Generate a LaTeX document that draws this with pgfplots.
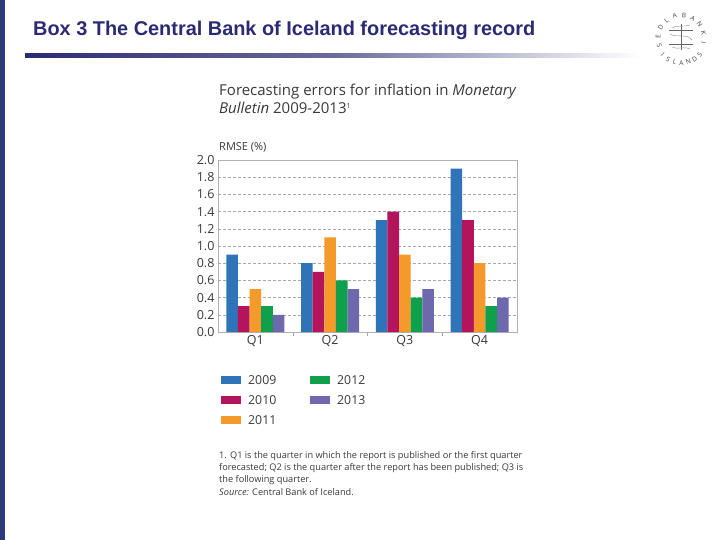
\documentclass[border=0pt]{standalone}
\usepackage{pgfplots}
\pgfplotsset{compat=1.18}
\usepackage{fontspec}
\setmainfont{Open Sans}
\newfontfamily\arialbf{Liberation Sans}
\definecolor{c2009}{HTML}{2F74B8}
\definecolor{c2010}{HTML}{B3145C}
\definecolor{c2011}{HTML}{F39A2B}
\definecolor{c2012}{HTML}{10A04C}
\definecolor{c2013}{HTML}{6E68AF}
\definecolor{navy}{HTML}{2B2B74}
\definecolor{strip}{HTML}{2E3A7C}
\definecolor{txt}{HTML}{3A3A3A}
\begin{document}
\begin{tikzpicture}[x=1pt,y=-1pt]
% page
\path[fill=white] (0,0) rectangle (720,540);
\fill[strip] (0,0) rectangle (5,540);
% slide title
\node[anchor=base west,inner sep=0pt,text=navy,font=\arialbf\bfseries\fontsize{19.9}{21}\selectfont] at (33,36) {Box 3 The Central Bank of Iceland forecasting record};
\shade[left color=navy,right color=white,middle color=navy!70] (25,54) rectangle (640,58);
% logo approximation
\foreach \l [count=\i] in {S,E,D,L,A,B,A,N,K,I} {
  \pgfmathsetmacro\a{200-(\i-1)*23.5}
  \node[inner sep=0pt,font=\fontsize{6.5}{7}\selectfont,text=black!75,rotate=\a-90]
    at ({681+23*cos(\a)},{38-23*sin(\a)}) {\l};
}
\foreach \l [count=\i] in {I,S,L,A,N,D,S} {
  \pgfmathsetmacro\a{223+(\i-1)*16}
  \node[inner sep=0pt,font=\fontsize{6.5}{7}\selectfont,text=black!75,rotate=\a+90]
    at ({681+25*cos(\a)},{38-25*sin(\a)}) {\l};
}
\draw[black!60,line width=0.5pt] (669,30) -- (693,30) (681,24) -- (681,50) (669,44) -- (693,44);
\draw[black!45,line width=0.4pt] (670,34) .. controls (675,38) and (687,33) .. (692,40)
  (672,47) .. controls (676,50) and (686,46) .. (690,49)
  (672,28) .. controls (676,25) and (686,27) .. (690,25);
% chart title
\node[anchor=base west,inner sep=0pt,text=txt,font=\fontsize{15}{18}\selectfont] at (219,96) {Forecasting errors for inflation in \textit{Monetary}};
\node[anchor=base west,inner sep=0pt,text=txt,font=\fontsize{15}{18}\selectfont] at (219,114) {\textit{Bulletin} 2009-2013\textsuperscript{\fontsize{7}{7}\selectfont 1}};
\node[anchor=base west,inner sep=0pt,text=txt,font=\fontsize{11}{12}\selectfont] at (219,151) {RMSE (\%)};
\coordinate (A) at (218,332);
\begin{axis}[
  at={(A)}, anchor=south west,
  scale only axis, width=299pt, height=172pt,
  ymin=0, ymax=2.0, xmin=-0.5, xmax=3.5,
  ytick={0,0.2,...,2.01},
  yticklabel style={/pgf/number format/.cd,fixed,fixed zerofill,precision=1},
  /pgf/number format/assume math mode=true,
  ticklabel style={font=\fontsize{12.5}{13}\selectfont, text=txt},
  xtick={0,1,2,3}, xticklabels={Q1,Q2,Q3,Q4},
  minor xtick={0.5,1.5,2.5},
  tick pos=left,
  major tick length=0pt, minor tick length=4pt,
  tick align=outside,
  minor tick style={gray!70},
  axis line style={gray!60},
  ymajorgrids, grid style={gray!70, dash pattern=on 3pt off 2pt},
  ybar=0pt, bar width=11.6pt,
  every axis plot/.append style={draw=none},
  clip=false,
]
\addplot[fill=c2009] coordinates {(0,0.9) (1,0.8) (2,1.3) (3,1.9)};
\addplot[fill=c2010] coordinates {(0,0.3) (1,0.7) (2,1.4) (3,1.3)};
\addplot[fill=c2011] coordinates {(0,0.5) (1,1.1) (2,0.9) (3,0.8)};
\addplot[fill=c2012] coordinates {(0,0.3) (1,0.6) (2,0.4) (3,0.3)};
\addplot[fill=c2013] coordinates {(0,0.2) (1,0.5) (2,0.5) (3,0.4)};
\end{axis}
% legend
\begin{scope}[every node/.style={anchor=west,inner sep=0pt,text=txt,font=\fontsize{12.3}{13}\selectfont}]
\fill[c2009] (221,376) rectangle (241,384); \node at (248,380) {2009};
\fill[c2010] (221,396) rectangle (241,404); \node at (248,400) {2010};
\fill[c2011] (221,416) rectangle (241,424); \node at (248,420) {2011};
\fill[c2012] (310,376) rectangle (330,384); \node at (337,380) {2012};
\fill[c2013] (310,396) rectangle (330,404); \node at (337,400) {2013};
\end{scope}
% footnote
\begin{scope}[every node/.style={anchor=base west,inner sep=0pt,text=txt,font=\fontsize{9.2}{10}\selectfont}]
\node at (219,458) {1. Q1 is the quarter in which the report is published or the first quarter};
\node at (219,470) {forecasted; Q2 is the quarter after the report has been published; Q3 is};
\node at (219,482) {the following quarter.};
\node at (219,495) {\textit{Source:} Central Bank of Iceland.};
\end{scope}
\end{tikzpicture}
\end{document}
